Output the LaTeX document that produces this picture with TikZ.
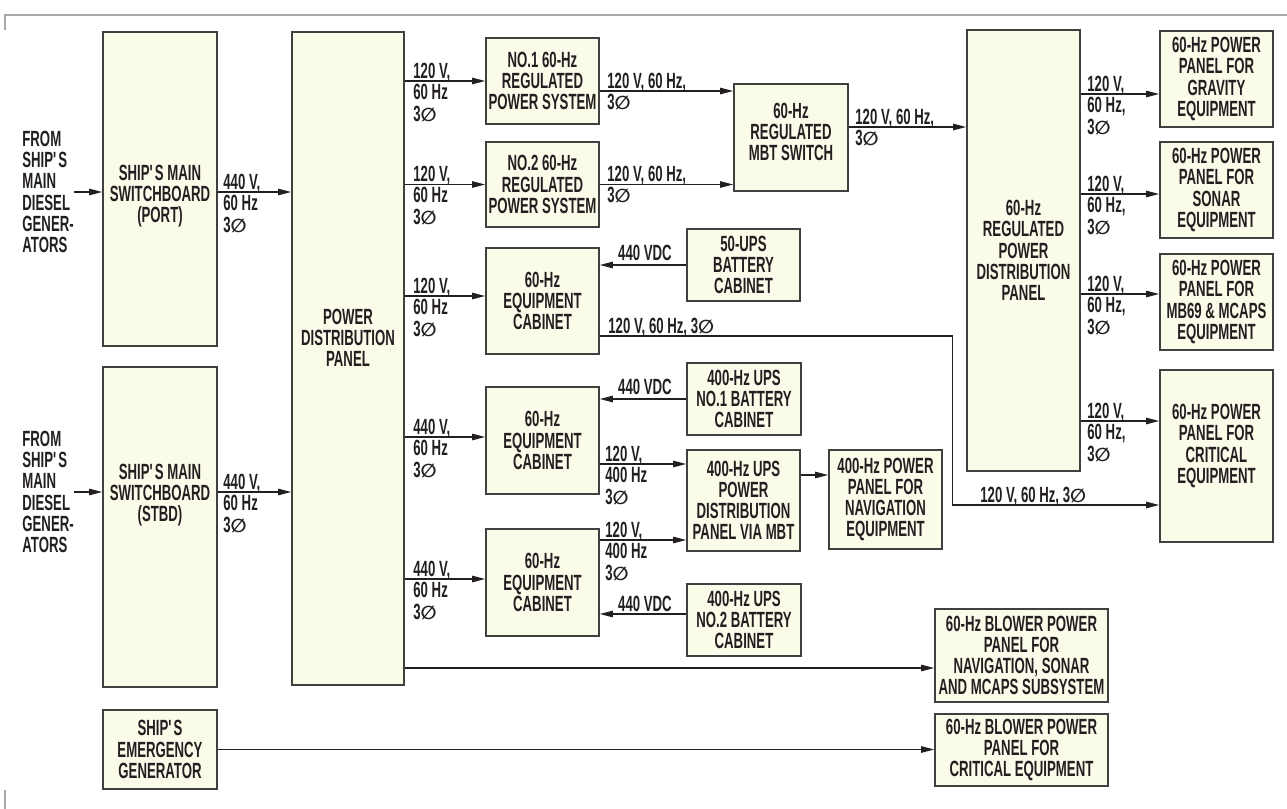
\documentclass[tikz,border=0pt]{standalone}
\usepackage{fontspec}
\setmainfont{Liberation Sans}[FakeStretch=0.6]
\newfontfamily\phasefont{DejaVu Sans}[Scale=0.85]
\usetikzlibrary{arrows.meta,calc}
\definecolor{boxfill}{HTML}{FBFBEA}
\definecolor{boxline}{HTML}{404040}
\definecolor{txt}{HTML}{231F20}
\definecolor{rulegray}{HTML}{A8A8A8}
\newcommand{\phs}{3{\phasefont ∅}}
\newcommand{\shp}{SHIP\textquotesingle S}

\begin{document}
\begin{tikzpicture}[
  x=0.5pt, y=-0.5pt,
  font=\fontsize{11}{10.6}\selectfont\bfseries,
  box/.style 2 args={draw=boxline, line width=0.8pt, fill=boxfill, text=txt, align=center,
    inner sep=0pt, minimum width=#1*0.5pt, minimum height=#2*0.5pt},
  boxtext/.style={text=txt, align=center, inner sep=0pt},
  lbl/.style={anchor=north west, inner sep=0pt, align=left, text=txt},
  vdc/.style={anchor=base, inner sep=0pt, text=txt},
  arr/.style={-{Triangle[length=6.5pt,width=3.2pt]}, line width=0.6pt, draw=txt},
  wire/.style={line width=0.6pt, draw=txt}
]
\useasboundingbox (0,0) rectangle (1287,809);
\draw[rulegray, line width=0.7pt] (1287,15) -- (5,15) -- (5,30);
\draw[rulegray, line width=0.7pt] (5,790) -- (5,809);

% generators and switchboards
\node[lbl, anchor=west] (gen1) at (22,192) {FROM\\\shp\\MAIN\\DIESEL\\GENER-\\ATORS};
\node[lbl, anchor=west] (gen2) at (22,492) {FROM\\\shp\\MAIN\\DIESEL\\GENER-\\ATORS};
\node[box={114}{314}] (port) at (160,189) {};
\node[boxtext] (port-t) at (160,196) {\shp{} MAIN\\SWITCHBOARD\\(PORT)};
\node[box={114}{320}] (stbd) at (160,527) {};
\node[boxtext] (stbd-t) at (160,495) {\shp{} MAIN\\SWITCHBOARD\\(STBD)};
\node[box={114}{79}] (emerg) at (160,749.5) {\shp\\EMERGENCY\\GENERATOR};
\node[box={112}{653}] (pdp) at (348,358.5) {};
\node[boxtext] (pdp-t) at (348,338) {POWER\\DISTRIBUTION\\PANEL};

% second column
\node[box={113}{86}] (no1) at (542.5,81) {NO.1 60-Hz\\REGULATED\\POWER SYSTEM};
\node[box={113}{85}] (no2) at (542.5,184.5) {NO.2 60-Hz\\REGULATED\\POWER SYSTEM};
\node[box={113}{106}] (cab1) at (542.5,301) {60-Hz\\EQUIPMENT\\CABINET};
\node[box={113}{107}] (cab2) at (542.5,440.5) {60-Hz\\EQUIPMENT\\CABINET};
\node[box={113}{107}] (cab3) at (542.5,582.5) {60-Hz\\EQUIPMENT\\CABINET};

% batteries and UPS
\node[box={113}{72}] (ups50) at (743.5,265) {50-UPS\\BATTERY\\CABINET};
\node[box={114}{72}] (bat1) at (744,399) {400-Hz UPS\\NO.1 BATTERY\\CABINET};
\node[box={113}{101}] (upspdp) at (743.5,500.5) {400-Hz UPS\\POWER\\DISTRIBUTION\\PANEL VIA MBT};
\node[box={114}{72}] (bat2) at (744,620) {400-Hz UPS\\NO.2 BATTERY\\CABINET};
\node[box={114}{107}] (mbt) at (791,137.5) {};
\node[boxtext] (mbt-t) at (791,132) {60-Hz\\REGULATED\\MBT SWITCH};
\node[box={113}{99}] (nav) at (885.5,499.5) {400-Hz POWER\\PANEL FOR\\NAVIGATION\\EQUIPMENT};

% regulated distribution and panels
\node[box={113}{441}] (regpdp) at (1023.5,250.5) {60-Hz\\REGULATED\\POWER\\DISTRIBUTION\\PANEL};
\node[box={113}{96}] (grav) at (1216.5,79) {60-Hz POWER\\PANEL FOR\\GRAVITY\\EQUIPMENT};
\node[box={113}{96}] (sonar) at (1216.5,190) {60-Hz POWER\\PANEL FOR\\SONAR\\EQUIPMENT};
\node[box={113}{96}] (mb69) at (1216.5,302) {60-Hz POWER\\PANEL FOR\\MB69 \& MCAPS\\EQUIPMENT};
\node[box={113}{172}] (crit) at (1216.5,456) {};
\node[boxtext] (crit-t) at (1216.5,446) {60-Hz POWER\\PANEL FOR\\CRITICAL\\EQUIPMENT};
\node[box={173}{93}] (blow1) at (1021.5,655.5) {60-Hz BLOWER POWER\\PANEL FOR\\NAVIGATION, SONAR\\AND MCAPS SUBSYSTEM};
\node[box={173}{72}] (blow2) at (1021.5,750) {60-Hz BLOWER POWER\\PANEL FOR\\CRITICAL EQUIPMENT};

% tap points
\coordinate (port-out) at ($(port.east)+(0,3)$);
\coordinate (stbd-out) at ($(stbd.east)+(0,-35)$);
\coordinate (cab1-in) at ($(cab1.west)+(0,-5)$);
\coordinate (cab2-in) at ($(cab2.west)+(0,-3.5)$);
\coordinate (cab3-in) at ($(cab3.west)+(0,-3.5)$);
\coordinate (blow1-in) at ($(blow1.west)+(0,12.5)$);
\coordinate (no1-out) at ($(no1.east)+(0,10)$);
\coordinate (bat2-out) at ($(bat2.west)+(0,-6)$);
\coordinate (cab2-out) at ($(cab2.east)+(0,23.5)$);
\coordinate (cab3-out) at ($(cab3.east)+(0,-42.5)$);
\coordinate (ups-out) at ($(upspdp.east)+(0,-25.5)$);
\coordinate (mbt-out) at ($(mbt.east)+(0,-10.5)$);
\coordinate (grav-in) at ($(grav.west)+(0,15)$);
\coordinate (sonar-in) at ($(sonar.west)+(0,4)$);
\coordinate (mb69-in) at ($(mb69.west)+(0,-8)$);
\coordinate (crit-in) at ($(crit.west)+(0,-35)$);
\coordinate (cab1-out) at ($(cab1.east)+(0,35)$);
\coordinate (crit-in2) at ($(crit.west)+(0,49)$);

% connectors
\draw[arr] (gen1.east) -- (gen1.east -| port.west);
\draw[arr] (gen2.east) -- (gen2.east -| stbd.west);
\draw[arr] (port-out) -- (port-out -| pdp.west);
\draw[arr] (stbd-out) -- (stbd-out -| pdp.west);
\draw[arr] (no1.west -| pdp.east) -- (no1.west);
\draw[arr] (no2.west -| pdp.east) -- (no2.west);
\draw[arr] (cab1-in -| pdp.east) -- (cab1-in);
\draw[arr] (cab2-in -| pdp.east) -- (cab2-in);
\draw[arr] (cab3-in -| pdp.east) -- (cab3-in);
\draw[arr] (blow1-in -| pdp.east) -- (blow1-in);
\draw[arr] (emerg.east) -- (emerg.east -| blow2.west);
\draw[arr] (no1-out) -- (no1-out -| mbt.west);
\draw[arr] (no2.east) -- (no2.east -| mbt.west);
\draw[arr] (ups50.west) -- (ups50.west -| cab1.east);
\draw[arr] (bat1.west) -- (bat1.west -| cab2.east);
\draw[arr] (bat2-out) -- (bat2-out -| cab3.east);
\draw[arr] (cab2-out) -- (cab2-out -| upspdp.west);
\draw[arr] (cab3-out) -- (cab3-out -| upspdp.west);
\draw[arr] (ups-out) -- (ups-out -| nav.west);
\draw[arr] (mbt-out) -- (mbt-out -| regpdp.west);
\draw[arr] (grav-in -| regpdp.east) -- (grav-in);
\draw[arr] (sonar-in -| regpdp.east) -- (sonar-in);
\draw[arr] (mb69-in -| regpdp.east) -- (mb69-in);
\draw[arr] (crit-in -| regpdp.east) -- (crit-in);
\draw[arr] (cab1-out) -- ++(353,0) |- (crit-in2);

% labels
\node[lbl] (l-port) at (223,174) {440 V,\\60 Hz\\\phs};
\node[lbl] (l-stbd) at (223,474) {440 V,\\60 Hz\\\phs};
\node[lbl] (l-no1) at (413,63) {120 V,\\60 Hz\\\phs};
\node[lbl] (l-no2) at (413,166) {120 V,\\60 Hz\\\phs};
\node[lbl] (l-cab1) at (413,278) {120 V,\\60 Hz\\\phs};
\node[lbl] (l-cab2) at (413,419) {440 V,\\60 Hz\\\phs};
\node[lbl] (l-cab3) at (413,561) {440 V,\\60 Hz\\\phs};
\node[lbl] (l-mbt1) at (607,73) {120 V, 60 Hz,\\\phs};
\node[lbl] (l-mbt2) at (607,166) {120 V, 60 Hz,\\\phs};
\node[vdc] (l-ups50) at (645,260) {440 VDC};
\node[vdc] (l-bat1) at (645,394) {440 VDC};
\node[vdc] (l-bat2) at (645,611) {440 VDC};
\node[lbl] (l-ups1) at (605,446) {120 V,\\400 Hz\\\phs};
\node[lbl] (l-ups2) at (605,522) {120 V,\\400 Hz\\\phs};
\node[anchor=base west, inner sep=0pt, text=txt] (l-crit1) at (608,333) {120 V, 60 Hz, \phs};
\node[anchor=base west, inner sep=0pt, text=txt] (l-crit2) at (980,502) {120 V, 60 Hz, \phs};
\node[lbl] (l-reg) at (855,109) {120 V, 60 Hz,\\\phs};
\node[lbl] (l-grav) at (1087,76) {120 V,\\60 Hz,\\\phs};
\node[lbl] (l-sonar) at (1087,176) {120 V,\\60 Hz,\\\phs};
\node[lbl] (l-mb69) at (1087,276) {120 V,\\60 Hz,\\\phs};
\node[lbl] (l-crit) at (1087,403) {120 V,\\60 Hz,\\\phs};
\end{tikzpicture}
\end{document}
